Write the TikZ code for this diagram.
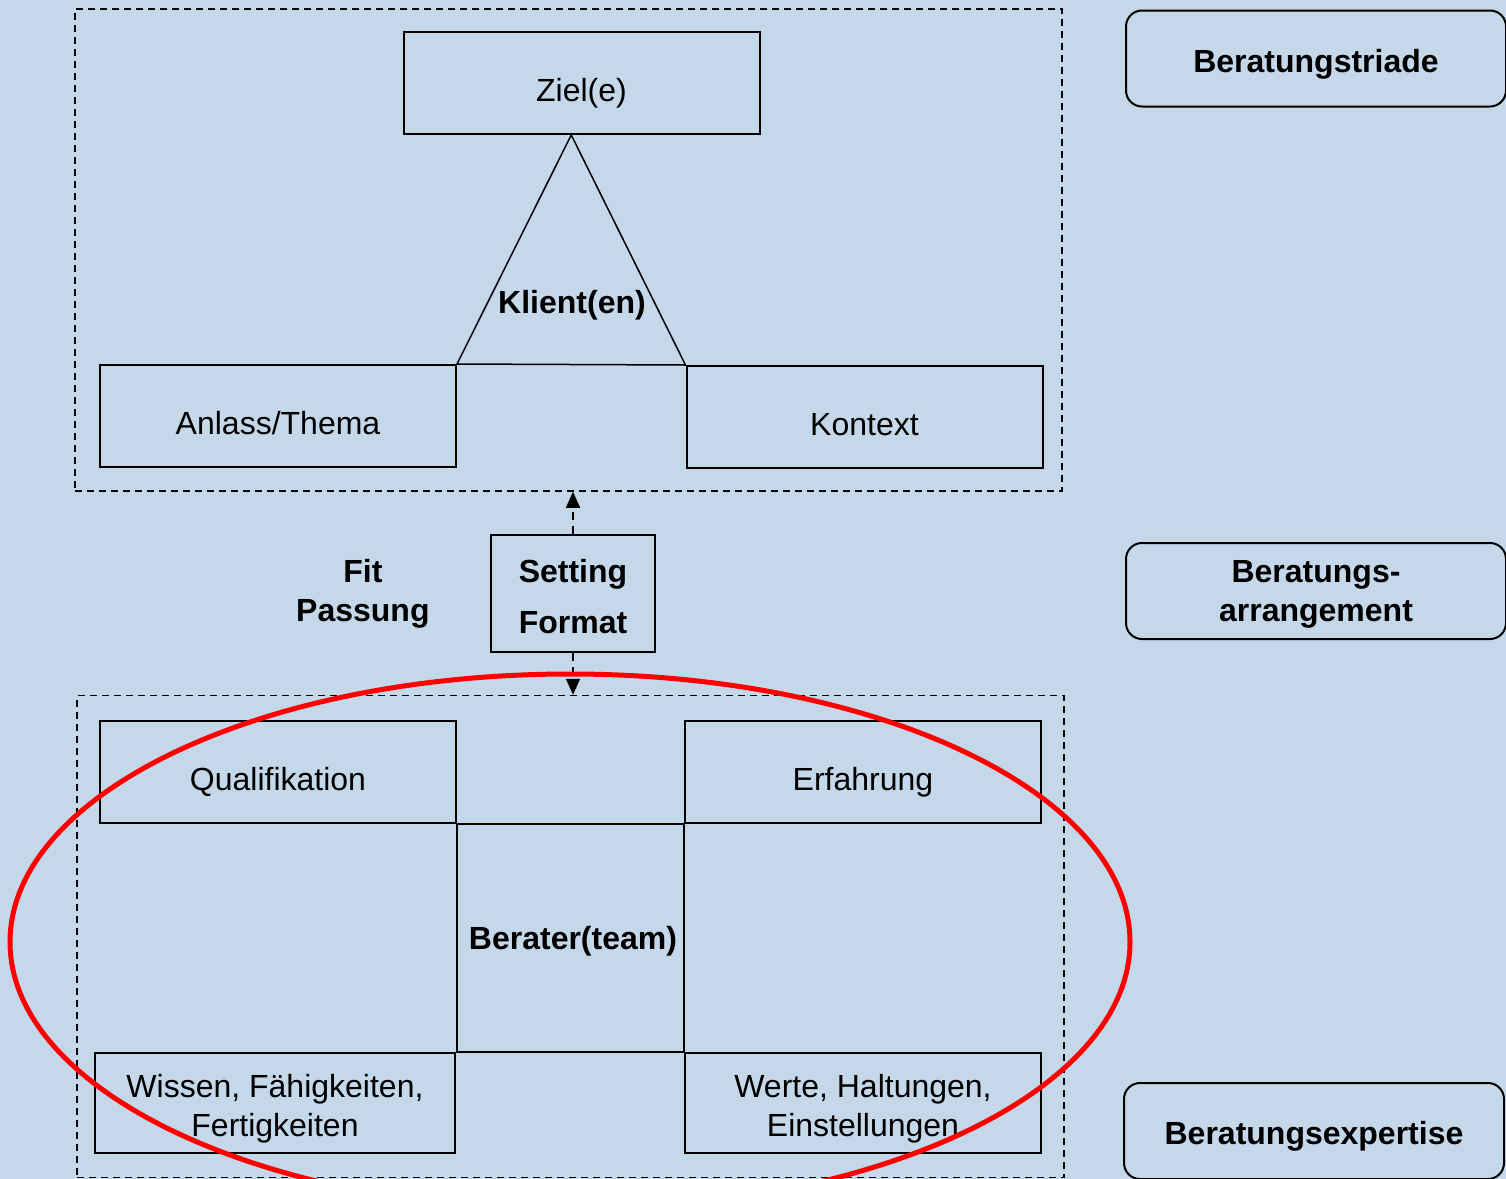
\documentclass[tikz,border=0pt]{standalone}
\usepackage{fontspec}
\setmainfont{Liberation Sans}
\usetikzlibrary{positioning,calc,arrows.meta}
\definecolor{bgblue}{RGB}{197,216,234}

\begin{document}
\fontsize{16}{19.5}\selectfont
\begin{tikzpicture}[x=5pt,y=5pt,
    cell/.style={draw, line width=1pt, inner sep=0pt, minimum width=178pt, minimum height=51pt, text height=22pt, text depth=4pt},
    cell2/.style={draw, line width=1pt, inner sep=0pt, minimum width=178pt, minimum height=50pt, align=center},
    tag/.style={draw, line width=1pt, rounded corners=8pt, inner sep=0pt, minimum width=190pt, minimum height=48pt, align=center, font=\bfseries},
    dashframe/.style={draw, line width=0.75pt, dash pattern=on 3.5pt off 2.5pt, minimum width=493.5pt, minimum height=241pt, inner sep=0pt},
    link/.style={line width=0.75pt, dash pattern=on 4pt off 3pt, -{Triangle[width=7pt,length=8pt]}}]
        \fill[bgblue] (0,0) rectangle (150.6,-117.9);
        \useasboundingbox (0,0) rectangle (150.6,-117.9);
        % Beratungstriade
        \node[dashframe] (triad) at (56.85,-25) {};
        \node[cell] (ziel) at (58.15,-8.3) {Ziel(e)};
        \node[cell] (anlass) at (27.8,-41.6) {Anlass/Thema};
        \node[cell] (kontext) at (86.45,-41.7) {Kontext};
        \coordinate (mid) at ($(anlass.north east)!.5!(kontext.north west)$);
        \coordinate (apex) at (mid |- ziel.south);
        \draw[line width=0.75pt] (anlass.north east) -- (apex) -- (kontext.north west) -- cycle;
        \node[font=\bfseries] (klient) at (57.2,-30.5) {Klient(en)};
        % Arrangement
        \node[draw, line width=1pt, minimum width=82pt, minimum height=58.5pt, inner sep=0pt, align=center, font=\bfseries] (setting) at (57.3,-59.35) {\rule{0pt}{14.7pt}Setting\\[6pt]Format};
        \node[font=\bfseries, align=center, inner sep=0pt, left=30pt of setting] (fit) {Fit\\Passung};
        % Expertise
        \node[dashframe] (expert) at (57.05,-93.65) {};
        \node[cell] (qual) at (27.8,-77.2) {Qualifikation};
        \node[cell] (erf) at (86.3,-77.2) {Erfahrung};
        \node[cell2, minimum width=180pt] (wissen) at (27.5,-110.3) {\rule{0pt}{17.5pt}Wissen, Fähigkeiten,\\Fertigkeiten};
        \node[cell2] (werte) at (86.3,-110.3) {\rule{0pt}{17.5pt}Werte, Haltungen,\\Einstellungen};
        \draw[line width=1pt] (qual.south east) -- (erf.south west) -- (erf.south west |- werte.north) -- (qual.south east |- wissen.north) -- cycle;
        \node[font=\bfseries] (team) at (57.3,-94.1) {Berater(team)};
        \draw[link] (setting.north) -- (setting.north |- triad.south);
        \draw[link] (setting.south) -- (setting.south |- expert.north);
        \draw[red, line width=2.5pt] (57,-94.2) ellipse [x radius=280pt, y radius=134pt];
        % Ebenen
        \node[tag, text height=17pt, text depth=3.5pt] (t1) at (131.6,-5.85) {Beratungstriade};
        \node[tag] (t2) at (131.6,-59.1) {\rule{0pt}{14.7pt}Beratungs-\\arrangement};
        \node[tag, text height=17pt, text depth=3.5pt] (t3) at (131.4,-113.1) {Beratungsexpertise};
\end{tikzpicture}
\end{document}
